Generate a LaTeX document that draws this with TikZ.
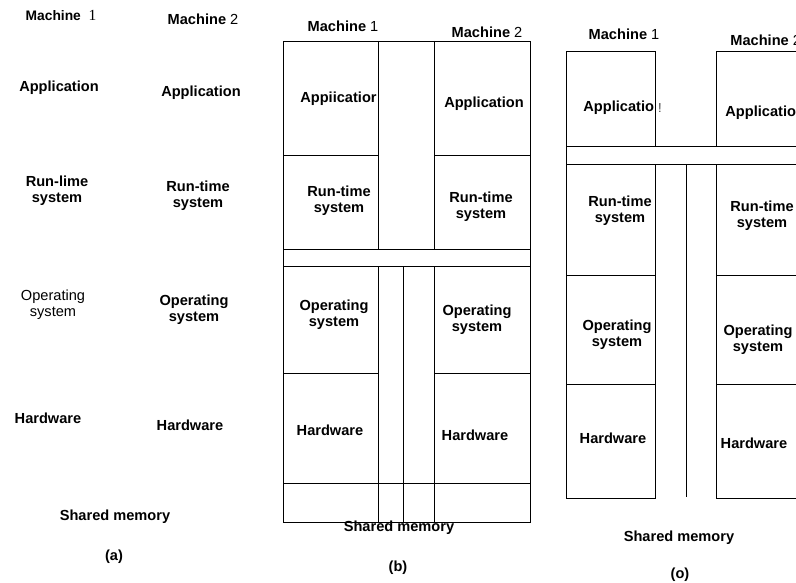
\documentclass[tikz,border=0pt]{standalone}
\usepackage{fontspec}
\setmainfont{Liberation Sans}
\newfontfamily\timesfont{Liberation Serif}
\begin{document}
\begin{tikzpicture}[x=1pt,y=-1pt, line width=0.8pt,
  lbl/.style={font=\fontsize{14.6}{16}\selectfont\bfseries, align=center, inner sep=0pt},
  lblr/.style={font=\fontsize{14.6}{16}\selectfont, align=center, inner sep=0pt}]
\useasboundingbox (0,0) rectangle (796,583);

% ---------- (a) ----------
\node[lbl, font=\fontsize{13.8}{16}\selectfont\bfseries] (a-m1) at (61,15) {Machine\ \ {\timesfont\mdseries\fontsize{15.5}{16}\selectfont 1}};
\node[lbl] (a-m2) at (203,19) {Machine {\mdseries 2}};
\node[lbl] (a-app1) at (59,88) {Application};
\node[lbl] (a-app2) at (201,93) {Application};
\node[lbl] (a-rt1) at (57,191) {Run-lime\\system};
\node[lbl] (a-rt2) at (198,196) {Run-time\\system};
\node[lblr] (a-os1) at (53,305) {Operating\\system};
\node[lbl] (a-os2) at (194,310) {Operating\\system};
\node[lbl] (a-hw1) at (48,418) {Hardware};
\node[lbl] (a-hw2) at (190,425) {Hardware};
\node[lbl] (a-sm) at (115,517) {Shared memory};
\node[lbl] (a-cap) at (114,557) {(a)};

% ---------- (b) ----------
\draw (283,41) rectangle (530,522);
\draw (378,41) -- (378,249) (434,41) -- (434,249);
\draw (283,155) -- (378,155) (434,155) -- (530,155);
\draw (283,249) -- (530,249) (283,266) -- (530,266);
\draw (378,266) -- (378,522) (403,266) -- (403,522) (434,266) -- (434,522);
\draw (283,373) -- (378,373) (434,373) -- (530,373);
\draw (283,483) -- (530,483);

\node[lbl] (b-m1) at (343,26) {Machine {\mdseries 1}};
\node[lbl] (b-m2) at (487,32) {Machine {\mdseries 2}};
\node[lbl, anchor=east] (b-app1) at (377,99) {Appiicatior};
\node[lbl] (b-app2) at (484,104) {Application};
\node[lbl] (b-rt1) at (339,201) {Run-time\\system};
\node[lbl] (b-rt2) at (481,207) {Run-time\\system};
\node[lbl] (b-os1) at (334,315) {Operating\\system};
\node[lbl] (b-os2) at (477,320) {Operating\\system};
\node[lbl] (b-hw1) at (330,430) {Hardware};
\node[lbl] (b-hw2) at (475,435) {Hardware};
\node[lbl] (b-sm) at (399,528) {Shared memory};
\node[lbl] (b-cap) at (398,568) {(b)};

% ---------- (c) ----------
\draw (566,51) rectangle (655,146);
\draw (800,51) -- (716,51) -- (716,146);
\draw (566,146) -- (800,146) (566,164) -- (800,164);
\draw (566,146) -- (566,498) -- (655,498) -- (655,164);
\draw (686,164) -- (686,497);
\draw (800,498) -- (716,498) -- (716,164);
\draw (566,275) -- (655,275) (716,275) -- (800,275);
\draw (566,384) -- (655,384) (716,384) -- (800,384);

\node[lbl] (c-m1) at (624,34) {Machine {\mdseries 1}};
\node[lbl, anchor=west] (c-m2) at (730,40) {Machine {\mdseries 2}};
\node[lbl, anchor=west] (c-app1) at (583,108) {Applicatio};
\node[inner sep=0pt, font=\fontsize{13}{14}\selectfont, text=black!75] (c-bang) at (660,108) {!};
\node[lbl, anchor=west] (c-app2) at (725,113) {Application};
\node[lbl] (c-rt1) at (620,211) {Run-time\\system};
\node[lbl] (c-rt2) at (762,216) {Run-time\\system};
\node[lbl] (c-os1) at (617,335) {Operating\\system};
\node[lbl] (c-os2) at (758,340) {Operating\\system};
\node[lbl] (c-hw1) at (613,438) {Hardware};
\node[lbl] (c-hw2) at (754,443) {Hardware};
\node[lbl] (c-sm) at (679,538) {Shared memory};
\node[lbl] (c-cap) at (680,575) {(o)};
\end{tikzpicture}
\end{document}
